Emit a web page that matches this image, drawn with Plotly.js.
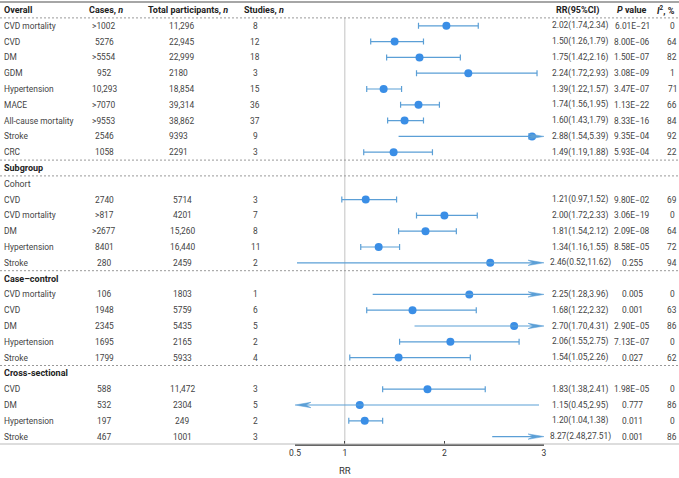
<!DOCTYPE html>
<html><head><meta charset="utf-8">
<script src="https://cdn.plot.ly/plotly-3.0.1.min.js"></script>
<style>html,body{margin:0;padding:0;background:#fff}#chart{width:679px;height:478px}</style>
</head><body><div id="chart"></div>
<script>
// ---- data ----
const groups = ['Overall','Overall','Overall','Overall','Overall','Overall','Overall','Overall','Overall',
  'Cohort','Cohort','Cohort','Cohort','Cohort',
  'Case–control','Case–control','Case–control','Case–control','Case–control',
  'Cross-sectional','Cross-sectional','Cross-sectional','Cross-sectional'];
const outcomes = ['CVD mortality','CVD','DM','GDM','Hypertension','MACE','All-cause mortality','Stroke','CRC',
  'CVD','CVD mortality','DM','Hypertension','Stroke',
  'CVD mortality','CVD','DM','Hypertension','Stroke',
  'CVD','DM','Hypertension','Stroke'];
const cases = ['>1002','5276','>5554','952','10,293','>7070','>9553','2546','1058',
  '2740','>817','>2677','8401','280',
  '106','1948','2345','1695','1799',
  '588','532','197','467'];
const participants = ['11,296','22,945','22,999','2180','18,854','39,314','38,862','9393','2291',
  '5714','4201','15,260','16,440','2459',
  '1803','5759','5435','2165','5933',
  '11,472','2304','249','1001'];
const studies = [8,12,18,3,15,36,37,9,3, 3,7,8,11,2, 1,6,5,2,4, 3,5,2,3];
const rr = [2.02,1.50,1.75,2.24,1.39,1.74,1.60,2.88,1.49, 1.21,2.00,1.81,1.34,2.46, 2.25,1.68,2.70,2.06,1.54, 1.83,1.15,1.20,8.27];
const lower = [1.74,1.26,1.42,1.72,1.22,1.56,1.43,1.54,1.19, 0.97,1.72,1.54,1.16,0.52, 1.28,1.22,1.70,1.55,1.05, 1.38,0.45,1.04,2.48];
const upper = [2.34,1.79,2.16,2.93,1.57,1.95,1.79,5.39,1.88, 1.52,2.33,2.12,1.55,11.62, 3.96,2.32,4.31,2.75,2.26, 2.41,2.95,1.38,27.51];
const pvalues = ['6.01E−21','8.00E−06','1.50E−07','3.08E−09','3.47E−07','1.13E−22','8.33E−16','9.35E−04','5.93E−04',
  '9.80E−02','3.06E−19','2.09E−08','8.58E−05','0.255',
  '0.005','0.001','2.90E−05','7.13E−07','0.027',
  '1.98E−05','0.777','0.011','0.001'];
const i2 = [0,64,82,1,71,66,84,92,22, 69,0,64,72,94, 0,63,86,0,62, 0,86,0,86];
const xTicks = [0.5,1,2,3];
const headers = ['Cases, <i>n</i>','Total participants, <i>n</i>','Studies, <i>n</i>','RR(95%CI)','<i>P</i> value','<i>I</i><sup>2</sup>, %'];

// ---- layout constants ----
const W = 679, H = 478;
const XMIN = 0.5, XMAX = 3;
const rowPx = 15.8, row0Px = 10, plotBottom = 444;
const yTop = -row0Px/rowPx, yBot = (plotBottom-row0Px)/rowPx;
const P = v => v / W;
const txtColor = '#444', hdrColor = '#222';
const lineColor = '#5b9fd6', dotColor = '#3a8ee6';
const F = 'Roboto, "Open Sans", sans-serif';
const FS = 8.4, HFS = 9;

// compute row positions
const rowY = [];
const sectionRows = [];
let r = 0, prev = null;
groups.forEach((g, i) => {
  if (g !== prev) {
    if (g === 'Cohort') { sectionRows.push({name:'Subgroup', y:r, bold:true}); r++; }
    sectionRows.push({name:g, y:r, bold: g !== 'Cohort', first: prev === null});
    r++; prev = g;
  }
  rowY.push(r); r++;
});

const annotations = [];
const shapes = [];
function txt(text, x, y, anchor, opts) {
  opts = opts || {};
  annotations.push({text, x: P(x), y, xref:'paper', yref:'y', xanchor:anchor, yanchor:'middle',
    showarrow:false, font:{family:F, size: opts.size || FS, color: opts.color || txtColor}});
}
// section headers
sectionRows.forEach(s => {
  txt(s.bold ? '<b>'+s.name+'</b>' : s.name, 2, s.y, 'left', {color: s.bold ? hdrColor : txtColor, size: s.bold ? HFS : FS + 0.4});
});
// column headers
const hdrX = [106,188,264,577,632,666];
headers.forEach((h, k) => txt('<b>'+h+'</b>', hdrX[k], 0, 'center', {color:hdrColor, size:HFS}));

// table rows
outcomes.forEach((o, i) => {
  const y = rowY[i];
  txt(o, 2, y, 'left');
  txt(cases[i], 104, y, 'center');
  if (groups[i] === 'Overall') txt(participants[i], 167, y, 'left');
  else txt(participants[i], 182, y, 'center');
  txt(String(studies[i]), 255, y, 'center');
  txt(rr[i].toFixed(2)+'('+lower[i].toFixed(2)+','+upper[i].toFixed(2)+')', 580, y, 'center');
  txt(pvalues[i], 632, y, 'center');
  txt(String(i2[i]), 672, y, 'center');
});

// rule lines
shapes.push({type:'line', xref:'paper', yref:'y', x0:0, x1:1, y0:-0.5, y1:-0.5, line:{color:'#888', width:1.5}});
[0.5].concat(sectionRows.filter(s => !s.first).map(s => s.y - 0.5)).forEach(yy => {
  shapes.push({type:'line', xref:'paper', yref:'y', x0:0, x1:1, y0:yy, y1:yy, line:{color:'#999', width:1, dash:'2px,2px'}});
});
shapes.push({type:'line', xref:'paper', yref:'paper', x0:0, x1:1, y0:0, y1:0, line:{color:'#bbb', width:1}});
shapes.push({type:'line', xref:'x', yref:'y', x0:1, x1:1, y0:0.5, y1:yBot, line:{color:'#ccc', width:1.2}, layer:'below'});

// forest marks
const inY = [], inX = [], errP = [], errM = [];
const trY = [], trX = [];
const headLen = 0.16, headHalf = 0.17, notch = 0.11;
outcomes.forEach((o, i) => {
  const y = rowY[i];
  const cut = upper[i] > XMAX || lower[i] < XMIN;
  if (!cut) {
    inY.push(y); inX.push(rr[i]); errP.push(upper[i]-rr[i]); errM.push(rr[i]-lower[i]);
  } else {
    trY.push(y); trX.push(rr[i]);
    const lo = Math.max(lower[i], XMIN), hi = Math.min(upper[i], XMAX);
    // CI line
    const tip = upper[i] > XMAX ? XMAX : XMIN;
    const dir = upper[i] > XMAX ? 1 : -1;
    const lineEnd = tip - dir*notch;
    shapes.push({type:'line', xref:'x', yref:'y', x0: dir>0 ? lo : hi, x1: lineEnd, y0:y, y1:y,
      line:{color:lineColor, width:1.2}});
    // arrow head
    const b = tip - dir*headLen, n = tip - dir*notch;
    shapes.push({type:'path', xref:'x', yref:'y',
      path:`M${tip},${y} L${b},${y-headHalf} L${n},${y} L${b},${y+headHalf} Z`,
      fillcolor:lineColor, line:{color:lineColor, width:0.5}});
  }
});

const traces = [
  {type:'scatter', mode:'markers', x:inX, y:inY, hoverinfo:'skip',
   marker:{color:dotColor, size:8},
   error_x:{type:'data', symmetric:false, array:errP, arrayminus:errM, color:lineColor, thickness:1.2, width:3}},
  {type:'scatter', mode:'markers', x:trX, y:trY, hoverinfo:'skip', cliponaxis:true,
   marker:{color:dotColor, size:8}}
];

const layout = {
  width:W, height:H, margin:{l:0, r:0, t:0, b:H-plotBottom},
  paper_bgcolor:'#fff', plot_bgcolor:'rgba(0,0,0,0)', showlegend:false,
  xaxis:{domain:[P(295), P(544)], range:[XMIN, XMAX], showgrid:false, zeroline:false,
    showline:true, linecolor:'#666', linewidth:2, ticks:'inside', ticklen:3, tickcolor:'#444',
    tickvals:xTicks, ticktext:xTicks.map(String), tickfont:{family:F, size:8.5, color:'#333'}},
  yaxis:{range:[yBot, yTop], visible:false, showgrid:false, zeroline:false},
  annotations: annotations.concat([{text:'RR', xref:'x', yref:'paper', x:1, y:-27/444, xanchor:'center', yanchor:'middle',
    showarrow:false, font:{family:F, size:9.5, color:'#333'}}]),
  shapes
};
Plotly.newPlot('chart', traces, layout, {staticPlot:true});
</script></body></html>
